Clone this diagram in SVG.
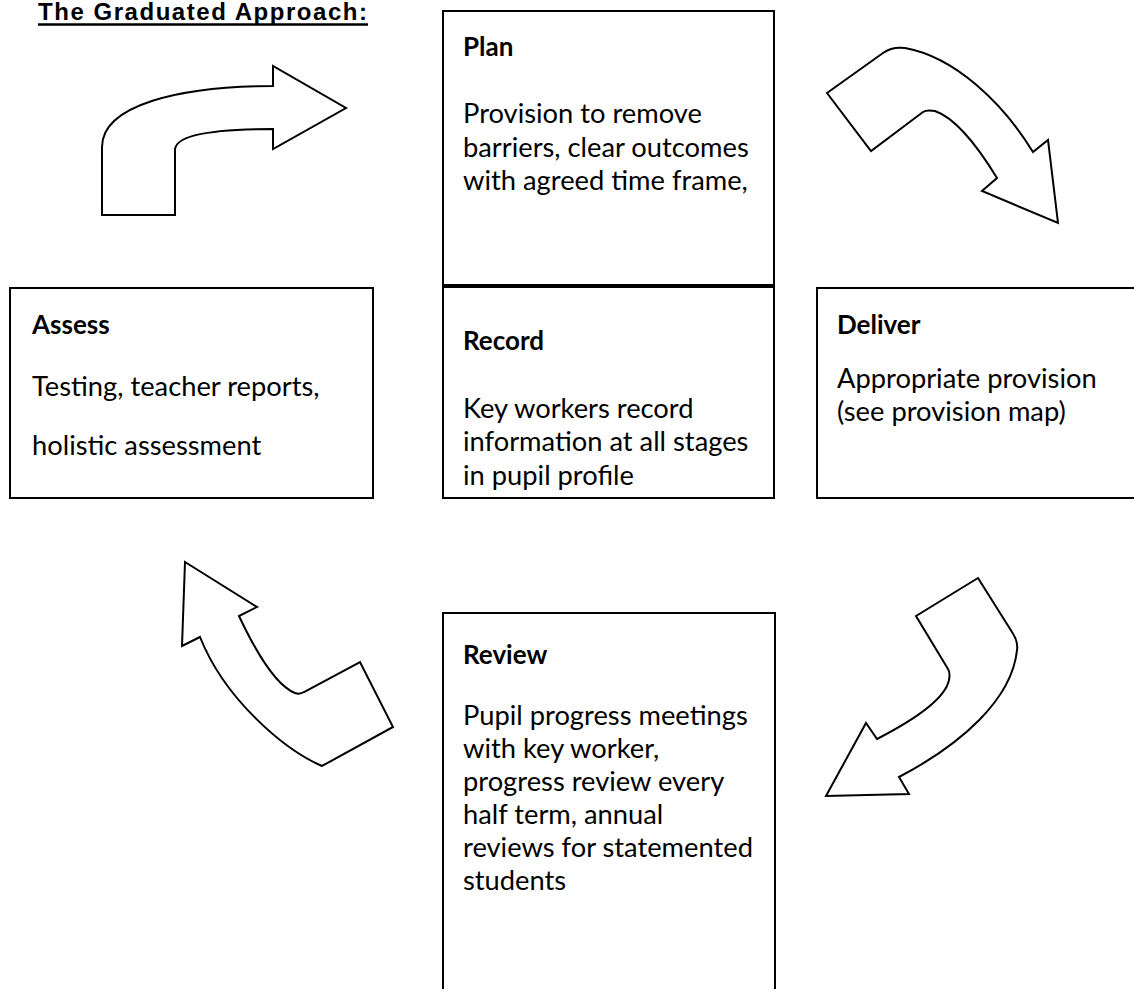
<svg xmlns="http://www.w3.org/2000/svg" width="1134" height="989" viewBox="0 0 1134 989">
<style>
.box{fill:#fff;stroke:#000;stroke-width:2}
.arrow{fill:#fff;stroke:#000;stroke-width:2;stroke-linejoin:miter}
.h{font-family:Lato,"Noto Sans",sans-serif;font-weight:bold;font-size:26px;fill:#000}
.t{font-family:Lato,"Noto Sans",sans-serif;font-size:27.3px;fill:#000}
.title{font-family:"Liberation Sans",Arial,sans-serif;font-weight:bold;font-size:24px;fill:#000}
</style>
<rect width="1134" height="989" fill="#fff"/>
<g id="title">
<text class="title" x="38" y="20" textLength="329" lengthAdjust="spacing">The Graduated Approach:</text>
<line x1="38" y1="24.5" x2="368" y2="24.5" stroke="#000" stroke-width="2.5"/>
</g>
<g id="connectors">
<path class="arrow" d="M102,215 L102,147 C102,105 180,86 273,86 L273,66 L346,108 L273,149 L273,129 C200,129 175,138 175,150 L175,215 Z"/>
<path class="arrow" d="M827,93 L883,53 C890,48 897,47 905,48 C955,57 1003,103 1033,152 L1048,140 L1058,223 L982,191 L997,178 C975,142 955,118 935,111 C930,110 926,110 923,112 L871,151 Z"/>
<path class="arrow" d="M978,578 L1012,632 C1016,638 1018,644 1017,650 C1012,700 960,745 899,777 L909,794 L826,796 L866,723 L877,739 C910,722 945,700 949,680 C950,675 950,672 948,669 L916,616 Z"/>
<path class="arrow" d="M185,562 L257,607 L239,616 C255,650 275,685 295,693 C298,694 301,694 304,692 L360,662 L393,727 L322,766 C285,750 225,700 200,637 L182,646 Z"/>
</g>
<g id="plan">
<rect class="box" x="443" y="11" width="331" height="274"/>
<text class="h" x="463" y="56">Plan</text>
<text class="t" x="463" y="123">Provision to remove</text>
<text class="t" x="463" y="157">barriers, clear outcomes</text>
<text class="t" x="463" y="190">with agreed time frame,</text>
</g>
<g id="record">
<rect class="box" x="443" y="287" width="331" height="211"/>
<text class="h" x="463" y="350">Record</text>
<text class="t" x="463" y="418">Key workers record</text>
<text class="t" x="463" y="451">information at all stages</text>
<text class="t" x="463" y="485">in pupil profile</text>
</g>
<g id="assess">
<rect class="box" x="10" y="288" width="363" height="210"/>
<text class="h" x="32" y="334">Assess</text>
<text class="t" x="32" y="396">Testing, teacher reports,</text>
<text class="t" x="32" y="455">holistic assessment</text>
</g>
<g id="deliver">
<rect class="box" x="817" y="288" width="330" height="210"/>
<text class="h" x="837" y="334">Deliver</text>
<text class="t" x="837" y="388">Appropriate provision</text>
<text class="t" x="837" y="421">(see provision map)</text>
</g>
<g id="review">
<rect class="box" x="443" y="613" width="332" height="390"/>
<text class="h" x="463" y="664">Review</text>
<text class="t" x="463" y="725">Pupil progress meetings</text>
<text class="t" x="463" y="758">with key worker,</text>
<text class="t" x="463" y="791">progress review every</text>
<text class="t" x="463" y="824">half term, annual</text>
<text class="t" x="463" y="857">reviews for statemented</text>
<text class="t" x="463" y="890">students</text>
</g>
</svg>
